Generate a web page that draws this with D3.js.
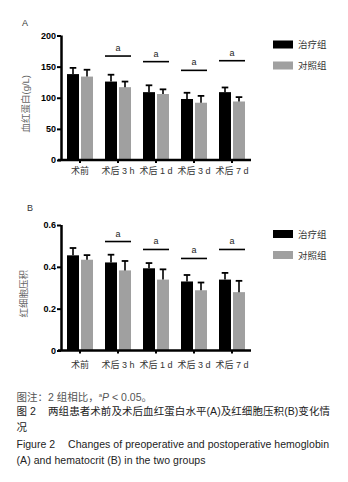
<!DOCTYPE html>
<html>
<head>
<meta charset="utf-8">
<script src="https://cdn.jsdelivr.net/npm/d3@7"></script>
<style>
  body { margin: 0; background: #fff; }
  svg { display: block; }
</style>
</head>
<body>
<div id="chart"></div>
<script>
// Hb / Hct, treatment vs control, 5 time points
const categories = ["术前", "术后 3 h", "术后 1 d", "术后 3 d", "术后 7 d"];
const groups = ["治疗组", "对照组"];

const hbTreat = [138, 126, 109, 98, 109];
const hbTreatSd = [10, 11, 11, 10, 7.5];
const hbCtrl = [134, 117, 106, 92, 94];
const hbCtrlSd = [11, 9, 7.5, 11, 7];
const hbSig = [null, 167, 158, 144, 159.5];   // height of the "a" bracket
const hbTicks = [0, 50, 100, 150, 200];

const hctTreat = [0.455, 0.421, 0.393, 0.330, 0.339];
const hctTreatSd = [0.035, 0.037, 0.025, 0.031, 0.032];
const hctCtrl = [0.434, 0.383, 0.339, 0.288, 0.279];
const hctCtrlSd = [0.022, 0.045, 0.049, 0.037, 0.054];
const hctSig = [null, 0.521, 0.483, 0.44, 0.483];
const hctTicks = [0, 0.2, 0.4, 0.6];

const W = 348, H = 482;
const cjk = "'Liberation Sans', 'Noto Sans CJK SC', sans-serif";
const colors = ["#000", "#a0a0a0"];

const svg = d3.select("#chart").append("svg").attr("width", W).attr("height", H);

const x = d3.scaleBand().domain(categories).range([61, 251]);
const xs = d3.scaleBand().domain(groups).range([x.step() / 2 - 13, x.step() / 2 + 13]).paddingInner(2 / 14);

function panel(o) {
  const g = svg.append("g");
  const y = d3.scaleLinear().domain([0, o.max]).range([o.bottom, o.top]);

  g.append("text").attr("x", o.tagX).attr("y", o.tagY).attr("font-family", cjk)
    .attr("font-size", 9).attr("fill", "#333").text(o.tag);

  const rows = categories.map((c, i) => ({c, i, vals: [o.a[i], o.b[i]], sds: [o.aSd[i], o.bSd[i]]}));
  const grp = g.selectAll("g.grp").data(rows).join("g").attr("transform", d => `translate(${x(d.c)},0)`);

  groups.forEach((s, k) => {
    grp.append("rect").attr("x", xs(s)).attr("width", xs.bandwidth())
      .attr("y", d => y(d.vals[k])).attr("height", d => y(0) - y(d.vals[k])).attr("fill", colors[k]);
    const cx = xs(s) + xs.bandwidth() / 2;
    grp.append("line").attr("x1", cx).attr("x2", cx)
      .attr("y1", d => y(d.vals[k])).attr("y2", d => y(d.vals[k] + d.sds[k]))
      .attr("stroke", "#000").attr("stroke-width", 1.6);
    grp.append("line").attr("x1", cx - 3.3).attr("x2", cx + 3.3)
      .attr("y1", d => y(d.vals[k] + d.sds[k])).attr("y2", d => y(d.vals[k] + d.sds[k]))
      .attr("stroke", "#000").attr("stroke-width", 1.8);
  });

  // significance brackets
  const sig = grp.filter(d => o.sig[d.i] != null);
  sig.append("line").attr("x1", xs(groups[0])).attr("x2", xs(groups[1]) + xs.bandwidth())
    .attr("y1", d => y(o.sig[d.i])).attr("y2", d => y(o.sig[d.i]))
    .attr("stroke", "#000").attr("stroke-width", 1.6);
  sig.append("text").attr("x", x.step() / 2).attr("y", d => y(o.sig[d.i]) - 5)
    .attr("text-anchor", "middle").attr("font-family", "'Liberation Sans', sans-serif")
    .attr("font-size", 9).attr("fill", "#222").text("a");

  // axes
  const ya = g.append("g").attr("transform", "translate(61,0)")
    .call(d3.axisLeft(y).tickValues(o.ticks).tickSize(4).tickPadding(1).tickFormat(d3.format("")));
  ya.select(".domain").attr("stroke-width", 2.5).attr("d", `M0.5,${o.top}V${o.bottom}`);
  ya.selectAll(".tick line").attr("stroke-width", 2);
  ya.selectAll(".tick text").attr("font-family", "'Liberation Sans', sans-serif")
    .attr("font-size", 9).attr("font-weight", "bold").attr("fill", "#000");

  const xa = g.append("g").attr("transform", `translate(0,${o.bottom})`)
    .call(d3.axisBottom(x).tickSize(3).tickPadding(o.xPad));
  xa.select(".domain").attr("stroke-width", 2.5).attr("d", `M58,0H251`);
  xa.selectAll(".tick line").attr("stroke-width", 2);
  xa.selectAll(".tick text").attr("font-family", cjk).attr("font-size", 9).attr("fill", "#333");

  g.append("text").attr("transform", `translate(${o.labX},${(o.top + o.bottom) / 2 + 6}) rotate(-90)`)
    .attr("text-anchor", "middle").attr("font-family", cjk).attr("font-size", 9.5)
    .attr("fill", "#666").text(o.label);

  // legend
  const lg = g.selectAll("g.lg").data(groups).join("g")
    .attr("transform", (d, k) => `translate(273,${o.top + 5 + k * 21})`);
  lg.append("rect").attr("width", 20).attr("height", 8).attr("fill", (d, k) => colors[k]);
  lg.append("text").attr("x", 25).attr("y", 7.5).attr("font-family", cjk)
    .attr("font-size", 9.5).attr("fill", "#333").text(d => d);
}

panel({tag: "A", tagX: 22, tagY: 26, top: 35.5, bottom: 160, max: 200, ticks: hbTicks,
  a: hbTreat, aSd: hbTreatSd, b: hbCtrl, bSd: hbCtrlSd, sig: hbSig,
  label: "血红蛋白(g/L)", labX: 29, xPad: 5});
panel({tag: "B", tagX: 27, tagY: 210.5, top: 225, bottom: 350.5, max: 0.6, ticks: hctTicks,
  a: hctTreat, aSd: hctTreatSd, b: hctCtrl, bSd: hctCtrlSd, sig: hctSig,
  label: "红细胞压积", labX: 27, xPad: 8});

// caption
const cap = svg.append("g").attr("font-family", cjk).attr("font-size", 10.5);
const l1 = cap.append("text").attr("x", 16.5).attr("y", 401).attr("fill", "#555");
l1.append("tspan").text("图注：2 组相比，");
l1.append("tspan").attr("font-size", 6).attr("dy", -4).text("a");
l1.append("tspan").attr("font-style", "italic").attr("dy", 4).text("P");
l1.append("tspan").text(" < 0.05。");

const l2 = cap.append("text").attr("y", 415).attr("fill", "#222");
l2.append("tspan").attr("x", 16.5).text("图 2");
l2.append("tspan").attr("x", 48).attr("textLength", 282).attr("lengthAdjust", "spacing")
  .text("两组患者术前及术后血红蛋白水平(A)及红细胞压积(B)变化情");
cap.append("text").attr("x", 16.5).attr("y", 431).attr("fill", "#222").text("况");

const l4 = cap.append("text").attr("y", 448).attr("fill", "#222");
l4.append("tspan").attr("x", 16.5).text("Figure 2");
l4.append("tspan").attr("x", 68).attr("textLength", 261).attr("lengthAdjust", "spacing")
  .text("Changes of preoperative and postoperative hemoglobin");
cap.append("text").attr("x", 16.5).attr("y", 464).attr("fill", "#222")
  .attr("textLength", 189).attr("lengthAdjust", "spacing")
  .text("(A) and hematocrit (B) in the two groups");
</script>
</body>
</html>
